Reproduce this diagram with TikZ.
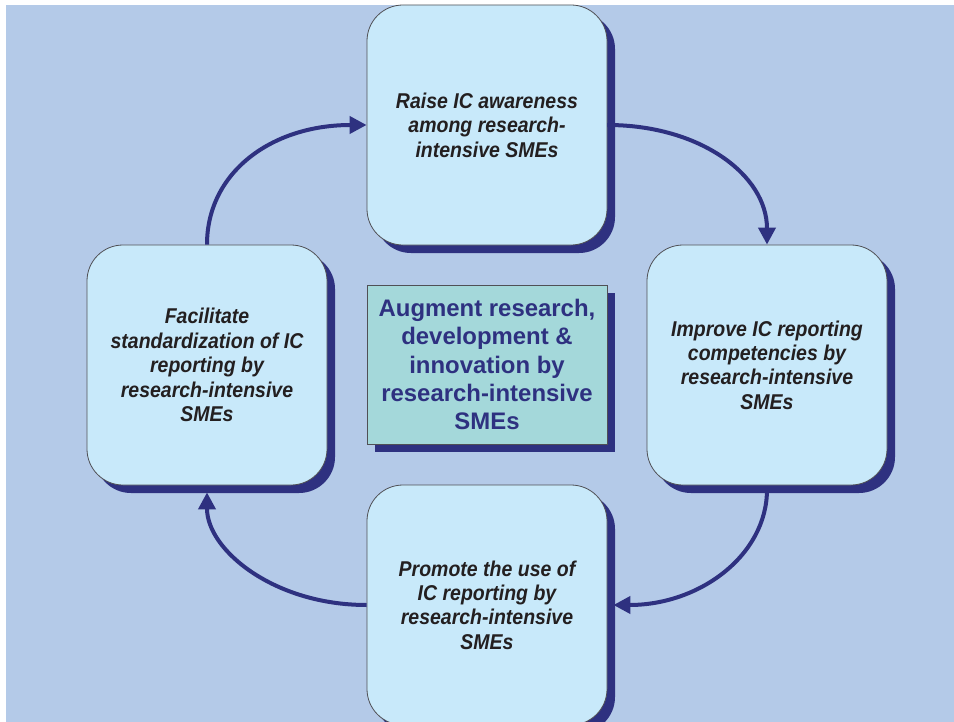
\documentclass[tikz,border=0pt]{standalone}
\usepackage{fontspec}
\setmainfont{Liberation Sans}
\newfontfamily\boxfont{Liberation Sans}[FakeStretch=0.91]
\usetikzlibrary{arrows.meta,shadows}
\definecolor{bgblue}{RGB}{180,202,232}
\definecolor{boxfill}{RGB}{200,233,250}
\definecolor{navy}{RGB}{46,49,128}
\definecolor{tealfill}{RGB}{164,216,218}
\definecolor{textgray}{RGB}{35,31,32}
\definecolor{edgegray}{RGB}{80,80,85}
\begin{document}
\begin{tikzpicture}[x=1bp,y=-1bp,
  goalbox/.style={draw=edgegray, line width=0.8bp, fill=boxfill, rounded corners=36bp,
    minimum width=240bp, minimum height=240bp, inner sep=0pt, align=center,
    text=textgray, font=\boxfont\bfseries\itshape\fontsize{21.5}{24.5}\selectfont,
    drop shadow={shadow xshift=8bp, shadow yshift=-8bp, opacity=1, fill=navy}},
  centerbox/.style={draw=edgegray, line width=0.8bp, fill=tealfill,
    minimum width=240bp, minimum height=159bp, inner sep=0pt, align=center,
    text=navy, font=\bfseries\fontsize{24}{28.5}\selectfont,
    drop shadow={shadow xshift=8bp, shadow yshift=-8bp, opacity=1, fill=navy}},
  cyc/.style={draw=navy, line width=4bp, -{Triangle[length=17bp,width=17bp]}}
]
\useasboundingbox (0,0) rectangle (954,722);
\clip (0,0) rectangle (954,722);
\fill[bgblue] (6,5) rectangle (954,722);

\node[goalbox] (T) at (487,125) {Raise IC awareness\\among research-\\intensive SMEs};
\node[goalbox] (R) at (767,365) {Improve IC reporting\\competencies by\\research-intensive\\SMEs};
\node[goalbox] (L) at (207,365) {Facilitate\\standardization of IC\\reporting by\\research-intensive\\SMEs};
\node[goalbox] (B) at (487,605) {Promote the use of\\IC reporting by\\research-intensive\\SMEs};
\node[centerbox] (C) at (487,364.5) {Augment research,\\development \&\\innovation by\\research-intensive\\SMEs};

\draw[cyc] (L.north) .. controls (207,172) and (272,125) .. (T.west);
\draw[cyc] (T.east) .. controls (700,125) and (767,175) .. (R.north);
\draw[cyc] ([yshift=-4bp]R.south) .. controls (767,555) and (700,605) .. ([xshift=6bp]B.east);
\draw[cyc] (B.west) .. controls (274,605) and (207,550) .. ([yshift=-7bp]L.south);
\end{tikzpicture}
\end{document}
